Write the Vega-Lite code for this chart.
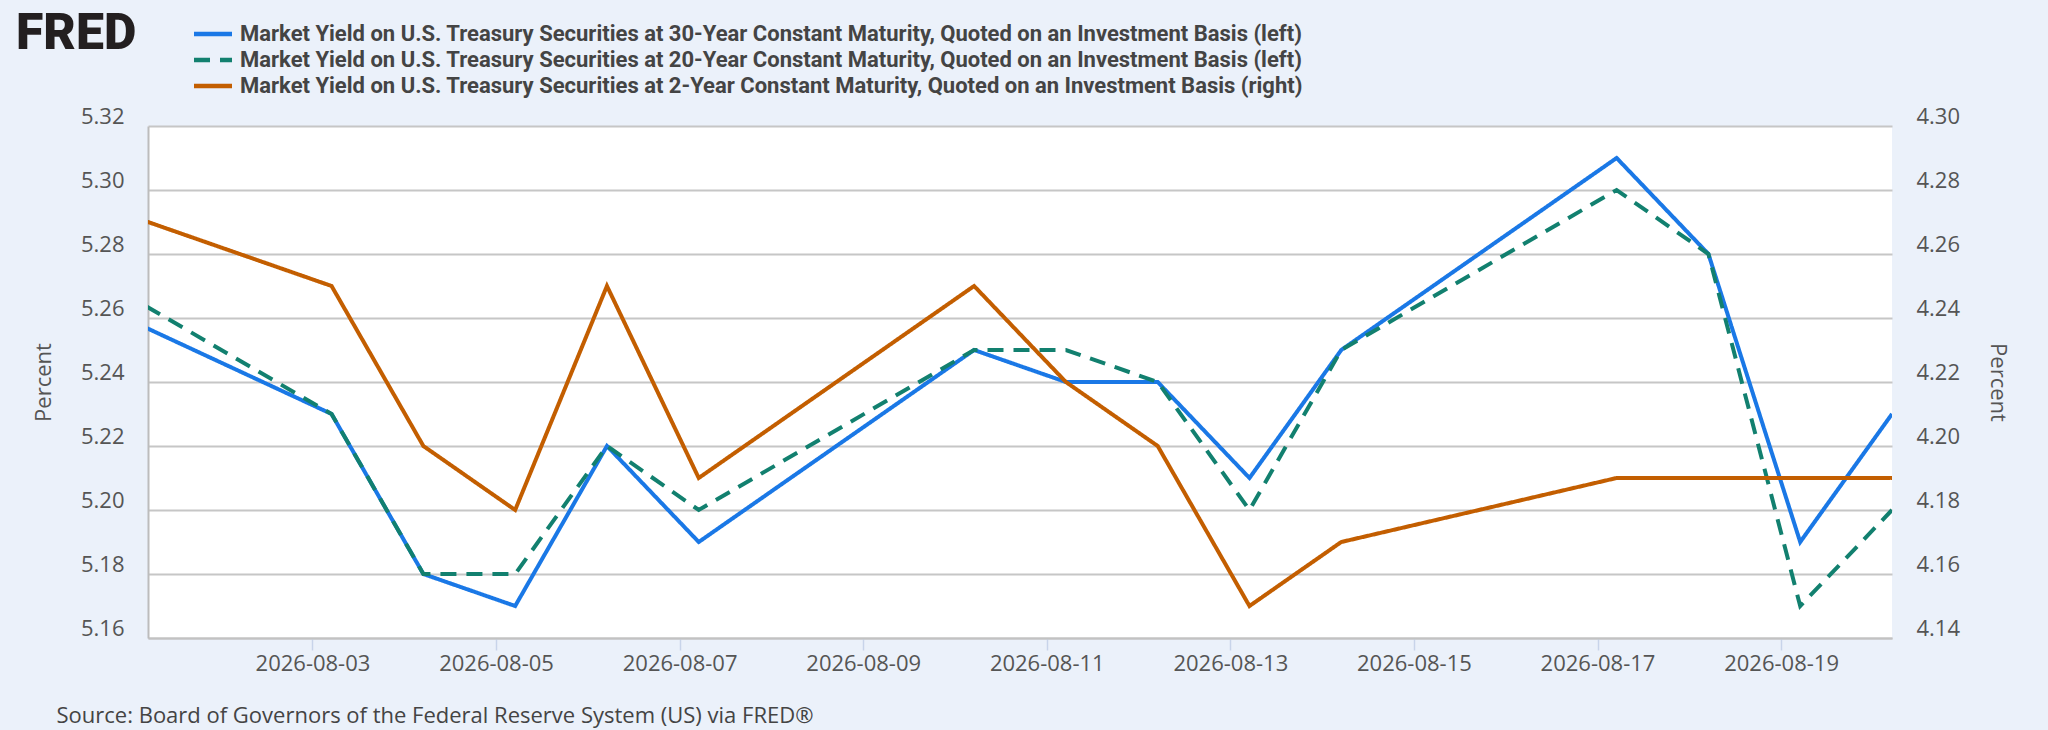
{
  "$schema": "https://vega.github.io/schema/vega-lite/v6.json",
  "width": 1744,
  "height": 512,
  "autosize": {"type": "none"},
  "padding": {"left": 148, "top": 126, "right": 156, "bottom": 92},
  "background": "#ebf1fa",
  "view": {"fill": "#ffffff", "stroke": null},
  "config": {"font": "Open Sans"},
  "data": {
    "values": [
      {"date": "2026-07-31T05:00", "DGS30": 5.27, "DGS20": 5.28, "DGS2": 4.28},
      {"date": "2026-08-03T05:00", "DGS30": 5.23, "DGS20": 5.23, "DGS2": 4.25},
      {"date": "2026-08-04T05:00", "DGS30": 5.18, "DGS20": 5.18, "DGS2": 4.20},
      {"date": "2026-08-05T05:00", "DGS30": 5.17, "DGS20": 5.18, "DGS2": 4.18},
      {"date": "2026-08-06T05:00", "DGS30": 5.22, "DGS20": 5.22, "DGS2": 4.25},
      {"date": "2026-08-07T05:00", "DGS30": 5.19, "DGS20": 5.20, "DGS2": 4.19},
      {"date": "2026-08-10T05:00", "DGS30": 5.25, "DGS20": 5.25, "DGS2": 4.25},
      {"date": "2026-08-11T05:00", "DGS30": 5.24, "DGS20": 5.25, "DGS2": 4.22},
      {"date": "2026-08-12T05:00", "DGS30": 5.24, "DGS20": 5.24, "DGS2": 4.20},
      {"date": "2026-08-13T05:00", "DGS30": 5.21, "DGS20": 5.20, "DGS2": 4.15},
      {"date": "2026-08-14T05:00", "DGS30": 5.25, "DGS20": 5.25, "DGS2": 4.17},
      {"date": "2026-08-17T05:00", "DGS30": 5.31, "DGS20": 5.30, "DGS2": 4.19},
      {"date": "2026-08-18T05:00", "DGS30": 5.28, "DGS20": 5.28, "DGS2": 4.19},
      {"date": "2026-08-19T05:00", "DGS30": 5.19, "DGS20": 5.17, "DGS2": 4.19},
      {"date": "2026-08-20T05:00", "DGS30": 5.23, "DGS20": 5.20, "DGS2": 4.19}
    ]
  },
  "transform": [{"fold": ["DGS30", "DGS20", "DGS2"], "as": ["series", "value"]}],
  "encoding": {
    "x": {
      "field": "date",
      "type": "temporal",
      "scale": {"domain": [
        {"year": 2026, "month": 8, "date": 1, "hours": 5},
        {"year": 2026, "month": 8, "date": 20, "hours": 5}
      ]},
      "axis": {
        "values": [
          {"year": 2026, "month": 8, "date": 3},
          {"year": 2026, "month": 8, "date": 5},
          {"year": 2026, "month": 8, "date": 7},
          {"year": 2026, "month": 8, "date": 9},
          {"year": 2026, "month": 8, "date": 11},
          {"year": 2026, "month": 8, "date": 13},
          {"year": 2026, "month": 8, "date": 15},
          {"year": 2026, "month": 8, "date": 17},
          {"year": 2026, "month": 8, "date": 19}
        ],
        "format": "%Y-%m-%d",
        "grid": false,
        "labelFontSize": 22,
        "labelColor": "#555555",
        "labelPadding": 3,
        "labelFlush": false,
        "labelOverlap": false,
        "tickSize": 12,
        "tickColor": "#c8d4ea",
        "tickWidth": 1.5,
        "domainColor": "#c2c2c2",
        "domainWidth": 2,
        "title": "Source: Board of Governors of the Federal Reserve System (US) via FRED®",
        "titleX": -92,
        "titleY": 77,
        "titleAlign": "left",
        "titleBaseline": "middle",
        "titleFontSize": 22,
        "titleFontWeight": "normal",
        "titleColor": "#444444"
      }
    },
    "color": {
      "field": "series",
      "type": "nominal",
      "scale": {"domain": ["DGS30", "DGS20", "DGS2"], "range": ["#1a78e6", "#12806f", "#c35e00"]},
      "legend": {
        "orient": "none",
        "legendX": -132,
        "legendY": -104,
        "padding": 0,
        "direction": "vertical",
        "title": "FRED",
        "titleOrient": "left",
        "titleFont": "Roboto",
        "titleFontSize": 50,
        "titleFontWeight": 900,
        "titleColor": "#231f20",
        "titlePadding": 64,
        "titleBaseline": "line-top",
        "titleLineHeight": 24,
        "titleAnchor": "start",
        "symbolType": "M-2,0H2",
        "symbolSize": 361,
        "symbolStrokeWidth": 4.5,
        "labelFont": "Roboto",
        "labelFontSize": 22,
        "labelFontWeight": "bold",
        "labelColor": "#444444",
        "labelLimit": 1600,
        "labelOffset": 15,
        "rowPadding": 3,
        "labelExpr": "datum.label === 'DGS30' ? 'Market Yield on U.S. Treasury Securities at 30-Year Constant Maturity, Quoted on an Investment Basis (left)' : datum.label === 'DGS20' ? 'Market Yield on U.S. Treasury Securities at 20-Year Constant Maturity, Quoted on an Investment Basis (left)' : 'Market Yield on U.S. Treasury Securities at 2-Year Constant Maturity, Quoted on an Investment Basis (right)'"
      }
    },
    "strokeDash": {
      "field": "series",
      "type": "nominal",
      "scale": {"domain": ["DGS30", "DGS20", "DGS2"], "range": [[1, 0], [16, 10], [1, 0]]}
    }
  },
  "layer": [
    {
      "transform": [{"filter": "datum.series !== 'DGS2'"}],
      "mark": {"type": "line", "strokeWidth": 4, "clip": true},
      "encoding": {
        "y": {
          "field": "value",
          "type": "quantitative",
          "scale": {"domain": [5.16, 5.32], "nice": false, "zero": false},
          "axis": {
            "values": [5.16, 5.18, 5.2, 5.22, 5.24, 5.26, 5.28, 5.3, 5.32],
            "format": ".2f",
            "tickSize": 0,
            "labelPadding": 24,
            "labelOffset": -10,
            "labelBaseline": "middle",
            "labelFontSize": 22,
            "labelColor": "#555555",
            "domainColor": "#bcbcbc",
            "domainWidth": 2,
            "grid": true,
            "gridColor": "#c6c6c6",
            "gridWidth": 2,
            "title": "Percent",
            "titleX": -105,
            "titleY": 256,
            "titleAngle": -90,
            "titleAlign": "center",
            "titleBaseline": "middle",
            "titleFontSize": 22,
            "titleFontWeight": "normal",
            "titleColor": "#555555"
          }
        }
      }
    },
    {
      "transform": [{"filter": "datum.series === 'DGS2'"}],
      "mark": {"type": "line", "strokeWidth": 4, "clip": true},
      "encoding": {
        "y": {
          "field": "value",
          "type": "quantitative",
          "scale": {"domain": [4.14, 4.3], "nice": false, "zero": false},
          "axis": {
            "orient": "right",
            "values": [4.14, 4.16, 4.18, 4.2, 4.22, 4.24, 4.26, 4.28, 4.3],
            "format": ".2f",
            "tickSize": 0,
            "labelPadding": 24,
            "labelOffset": -10,
            "labelBaseline": "middle",
            "labelFontSize": 22,
            "labelColor": "#555555",
            "domain": false,
            "grid": false,
            "title": "Percent",
            "titleX": 105,
            "titleY": 256,
            "titleAngle": 90,
            "titleAlign": "center",
            "titleBaseline": "middle",
            "titleFontSize": 22,
            "titleFontWeight": "normal",
            "titleColor": "#555555"
          }
        }
      }
    }
  ],
  "resolve": {"scale": {"y": "independent"}}
}
